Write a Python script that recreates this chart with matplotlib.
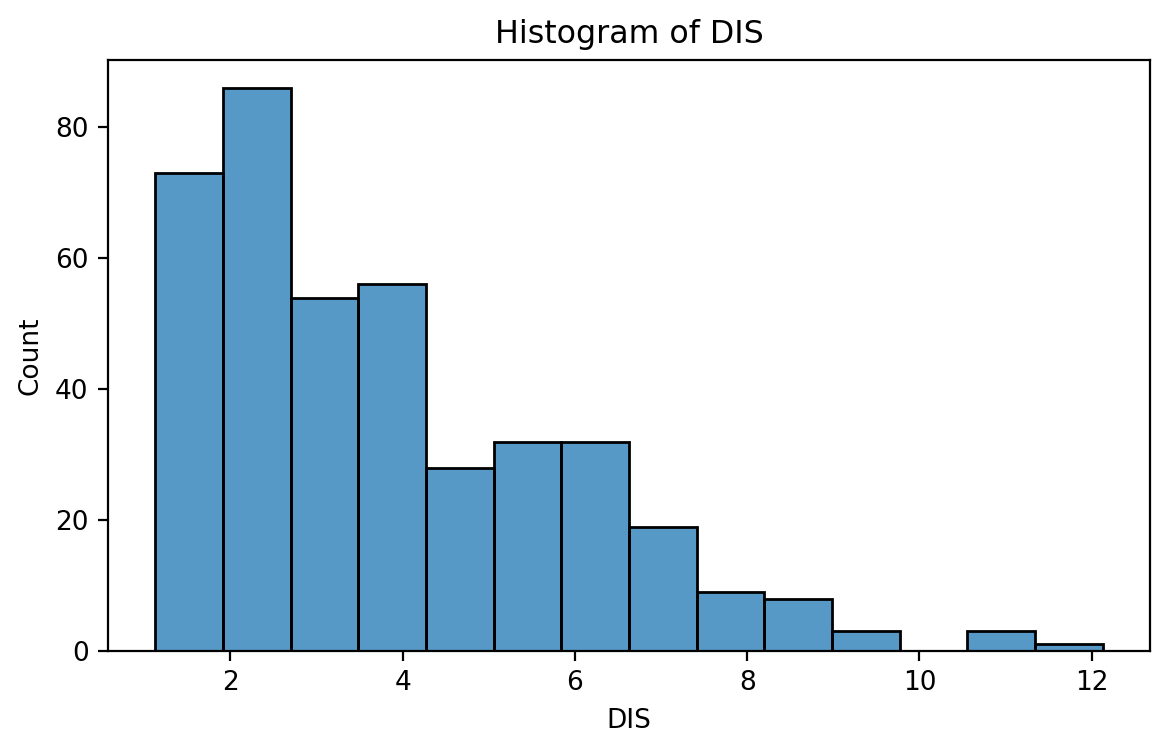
import numpy as np
import matplotlib
matplotlib.use("Agg")
import matplotlib.pyplot as plt

# histogram of DIS: bin range and counts
dis_min = 1.1296
dis_max = 12.1265
counts = [73, 86, 54, 56, 28, 32, 32, 19, 9, 8, 3, 0, 3, 1]

edges = np.linspace(dis_min, dis_max, len(counts) + 1)
widths = np.diff(edges)

plt.rcParams["font.size"] = 9.5

fig = plt.figure(figsize=(1169 / 200, 751 / 200), dpi=200)
ax = fig.add_axes([108 / 1169, 1 - 651 / 751, (1150 - 108) / 1169, (651 - 60) / 751])

ax.bar(edges[:-1], counts, width=widths, align="edge",
       color="#1f77b4", alpha=0.75, edgecolor="none")
ax.bar(edges[:-1], counts, width=widths, align="edge",
       fill=False, edgecolor="black", linewidth=1.0)

pad = 0.05 * (dis_max - dis_min)
ax.set_xlim(dis_min - pad, dis_max + pad)
ax.set_ylim(0, max(counts) * 1.05)
ax.set_xticks([2, 4, 6, 8, 10, 12])
ax.set_yticks([0, 20, 40, 60, 80])
ax.set_xlabel("DIS")
ax.set_ylabel("Count")
ax.set_title("Histogram of DIS", fontsize=11.4)

fig.savefig("out.png", dpi=200)
